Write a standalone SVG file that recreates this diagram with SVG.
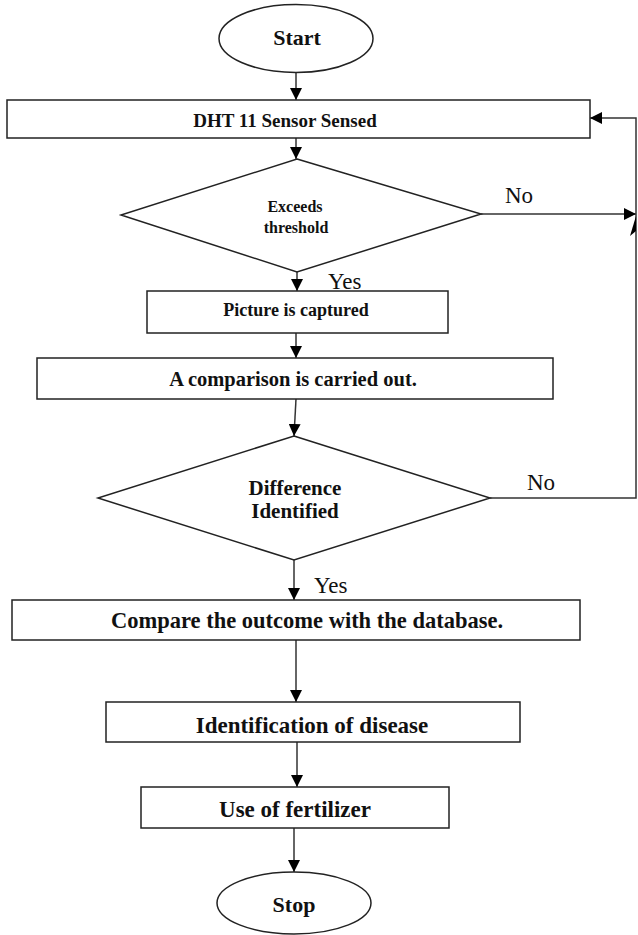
<svg xmlns="http://www.w3.org/2000/svg" width="638" height="935" viewBox="0 0 638 935">
<defs>
<marker id="ah" viewBox="0 0 10 10" refX="10" refY="5" markerWidth="12" markerHeight="12" markerUnits="userSpaceOnUse" orient="auto">
<path d="M0,0 L10,5 L0,10 z" fill="#000"/>
</marker>
</defs>
<style>
.s{fill:#fff;stroke:#222;stroke-width:1.5}
.t{font-family:"Liberation Serif","Times New Roman",serif;font-weight:bold;fill:#111;text-anchor:middle}
.l{font-family:"Liberation Serif","Times New Roman",serif;fill:#111}
.c{fill:none;stroke:#333;stroke-width:1.5;marker-end:url(#ah)}
</style>
<rect width="638" height="935" fill="#fff"/>
<g id="connectors">
<path class="c" d="M296,73 L296,100"/>
<path class="c" d="M296,138 L296,159"/>
<path class="c" d="M481,214 L636,214"/>
<path class="c" d="M297,272 L297,291"/>
<path class="c" d="M296,333 L296,358"/>
<path class="c" d="M296,399 L294,436"/>
<path class="c" d="M490,498 L636,498 L636,118 L590,118"/>
<path class="c" d="M294,560 L294,600"/>
<path class="c" d="M296,640 L296,702"/>
<path class="c" d="M297,742 L297,787"/>
<path class="c" d="M294,828 L294,872"/>
<polygon points="636,216 630,236 636,231" fill="#000"/>
<text class="l" x="505" y="203" font-size="23">No</text>
<text class="l" x="328" y="289" font-size="23">Yes</text>
<text class="l" x="527" y="490" font-size="23">No</text>
<text class="l" x="314" y="593" font-size="23">Yes</text>
</g>
<g id="start">
<ellipse class="s" cx="296" cy="38.5" rx="77" ry="34"/>
<text class="t" x="297" y="45" font-size="22">Start</text>
</g>
<g id="sensor">
<rect class="s" x="7" y="100" width="583" height="38"/>
<text class="t" x="285" y="127" font-size="19">DHT 11 Sensor Sensed</text>
</g>
<g id="threshold">
<polygon class="s" points="297,159 481,214 297,272 121,215"/>
<text class="t" x="295" y="212" font-size="16">Exceeds</text>
<text class="t" x="296" y="233" font-size="16">threshold</text>
</g>
<g id="capture">
<rect class="s" x="147" y="291" width="301" height="42"/>
<text class="t" x="296" y="316" font-size="18">Picture is captured</text>
</g>
<g id="comparison">
<rect class="s" x="37" y="358" width="516" height="41"/>
<text class="t" x="293" y="386" font-size="20.5">A comparison is carried out.</text>
</g>
<g id="difference">
<polygon class="s" points="294,436 490,498 294,560 98,498"/>
<text class="t" x="295" y="495" font-size="21">Difference</text>
<text class="t" x="295" y="518" font-size="21">Identified</text>
</g>
<g id="database">
<rect class="s" x="12" y="600" width="568" height="40"/>
<text class="t" x="307" y="628" font-size="22.5">Compare the outcome with the database.</text>
</g>
<g id="disease">
<rect class="s" x="106" y="702" width="414" height="40"/>
<text class="t" x="312" y="733" font-size="23">Identification of disease</text>
</g>
<g id="fertilizer">
<rect class="s" x="141" y="787" width="308" height="41"/>
<text class="t" x="295" y="817" font-size="23">Use of fertilizer</text>
</g>
<g id="stop">
<ellipse class="s" cx="294" cy="903" rx="77" ry="31"/>
<text class="t" x="294" y="912" font-size="22">Stop</text>
</g>
</svg>
